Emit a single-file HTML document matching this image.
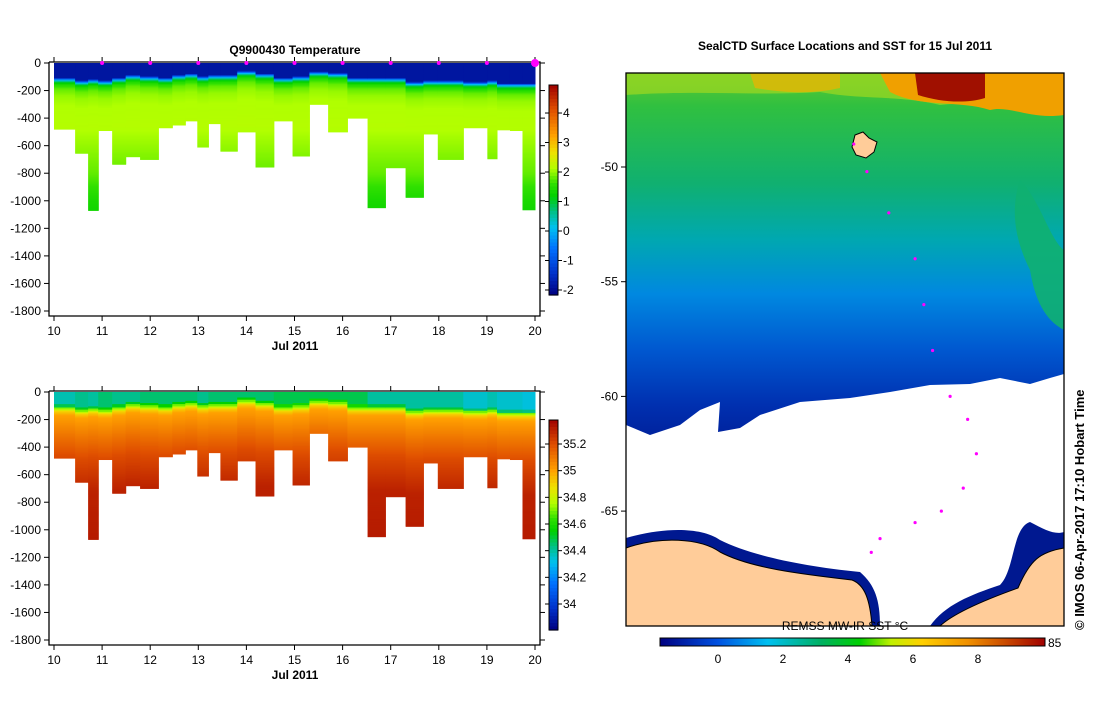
<!DOCTYPE html>
<html><head><meta charset="utf-8">
<style>
body{margin:0;background:#fff;width:1099px;height:700px;overflow:hidden;font-family:"Liberation Sans",sans-serif;}
svg text{font-family:"Liberation Sans",sans-serif;}
</style></head>
<body>
<svg id="root" width="1099" height="700" xmlns="http://www.w3.org/2000/svg">
<g id="tchart"></g>
<g id="schart"></g>
<g id="map"></g>
</svg>
<script>
const NS="http://www.w3.org/2000/svg";
// ---- data ----
const colEdges=[10,10.44,10.71,10.92,11.21,11.49,11.79,12.17,12.46,12.73,12.98,13.21,13.46,13.81,14.19,14.57,14.96,15.31,15.70,16.10,16.52,16.89,17.31,17.68,17.98,18.51,19.01,19.21,19.48,19.74,20.0];
const colMaxDepth=[480,655,1070,490,735,680,700,470,450,420,610,440,640,500,755,420,675,300,500,400,1050,760,975,515,700,470,695,485,490,1065];
const colMld=[110,130,120,130,110,90,100,110,90,80,100,90,90,60,80,110,100,65,75,110,110,110,140,130,130,140,130,150,150,150];
const colSurfSal=[34.38,34.42,34.4,34.45,34.42,34.42,34.45,34.45,34.45,34.45,34.42,34.45,34.45,34.45,34.45,34.48,34.48,34.48,34.48,34.48,34.4,34.4,34.4,34.4,34.4,34.35,34.38,34.35,34.35,34.33];
const tempDz=[0,15,30,50,80,130,200,400];
const tempVals=[-1.5,0,1.0,1.5,1.8,2.0,2.1,2.15];
const deepZ=[0,400,600,800,1000,1100];
const deepT=[2.2,2.2,2.0,1.8,1.4,1.3];
const salDz=[0,10,30,60,200,350,600,1000];
const salVals=[34.7,34.7,34.9,35.0,35.1,35.2,35.3,35.32];
const profileDays=[11,12,13,14,15,16,17,18,19,20];
const dayTicks=[10,11,12,13,14,15,16,17,18,19,20];
const depthTicks=[0,-200,-400,-600,-800,-1000,-1200,-1400,-1600,-1800];
const tempCbTicks=[4,3,2,1,0,-1,-2];
const salCbTicks=[35.2,35,34.8,34.6,34.4,34.2,34];
const latTicks=[-50,-55,-60,-65];
const sstTicks=[0,2,4,6,8];
const trackLon=[0.52,0.55,0.60,0.66,0.68,0.70,0.74,0.78,0.80,0.77,0.72,0.66,0.58,0.56];
const trackLat=[-49.0,-50.2,-52,-54,-56,-58,-60,-61,-62.5,-64,-65,-65.5,-66.2,-66.8];

const cmS=[[0,[0,0,128]],[0.1,[0,48,200]],[0.22,[0,112,255]],[0.32,[0,192,240]],[0.4,[0,192,128]],[0.47,[0,208,0]],[0.53,[48,224,0]],[0.6,[176,255,0]],[0.68,[240,224,0]],[0.76,[255,160,0]],[0.88,[224,80,0]],[1,[160,0,0]]];
function cmap(t){t=Math.max(0,Math.min(1,t));for(let i=1;i<cmS.length;i++){if(t<=cmS[i][0]){const a=cmS[i-1],b=cmS[i],f=(t-a[0])/(b[0]-a[0]);return `rgb(${a[1].map((v,k)=>Math.round(v+(b[1][k]-v)*f)).join(',')})`;}}return 'rgb(160,0,0)';}
function interp(xs,ys,x){if(x<=xs[0])return ys[0];for(let i=1;i<xs.length;i++){if(x<=xs[i])return ys[i-1]+(ys[i]-ys[i-1])*(x-xs[i-1])/(xs[i]-xs[i-1]);}return ys[ys.length-1];}
function el(tag,attrs,parent,txt){const e=document.createElementNS(NS,tag);for(const k in attrs)e.setAttribute(k,attrs[k]);if(txt!==undefined)e.textContent=txt;parent.appendChild(e);return e;}

function section(g,top,title,valFn,vmin,vmax,cbTicks,cbTop,cbBot){
  const x0=54,x1=535,yTop=top,yBot=top+248;
  const xs=d=>x0+(d-10)*(x1-x0)/10;
  const ys=z=>yTop+z*(248/1800);
  if(title){const t=el('text',{x:295,y:top-9,'text-anchor':'middle','font-size':12,'font-weight':'bold'},g,title);
  
  }
  for(let c=0;c<colMaxDepth.length;c++){
    const xa=xs(colEdges[c]),xb=xs(colEdges[c+1]);
    const step=8;
    for(let z=0;z<colMaxDepth[c];z+=step){
      const zz=Math.min(step,colMaxDepth[c]-z);
      const v=valFn(c,z+zz/2);
      const r=el('rect',{x:xa,y:ys(z),width:xb-xa+0.5,height:ys(z+zz)-ys(z)+0.5,fill:cmap((v-vmin)/(vmax-vmin))},g);
      
      
    }
  }
  const ax=el('path',{d:`M${x0-5},${yTop-1}V${yBot+5}H${x1+5}V${yTop-1}H${x0-5}`,fill:'none',stroke:'#000','stroke-width':1.3},g);
  
  
  depthTicks.forEach(d=>{const y=ys(-d);
    el('line',{x1:x0-10,x2:x0-5,y1:y,y2:y,stroke:'#000'},g);
    el('line',{x1:x1+5,x2:x1+10,y1:y,y2:y,stroke:'#000'},g);
    const t=el('text',{x:x0-13,y:y+4,'text-anchor':'end','font-size':12},g,String(d));
    
    });
  dayTicks.forEach(d=>{const x=xs(d);
    el('line',{x1:x,x2:x,y1:yBot+5,y2:yBot+10,stroke:'#000'},g);
    el('line',{x1:x,x2:x,y1:yTop-1,y2:yTop-6,stroke:'#000'},g);
    const t=el('text',{x:x,y:yBot+24,'text-anchor':'middle','font-size':12},g,String(d));
    
    });
  const xl=el('text',{x:295,y:yBot+39,'text-anchor':'middle','font-size':12,'font-weight':'bold'},g,'Jul 2011');
  
  
  if(title){profileDays.forEach(d=>{const m=el('circle',{cx:xs(d),cy:yTop,r:d==20?4:2,fill:'#ff00ff'},g);
    
    });}
  const cx=549,cw=9;const n=60;
  for(let i=0;i<n;i++){const y=cbTop+(cbBot-cbTop)*i/n;
    el('rect',{x:cx,y:y,width:cw,height:(cbBot-cbTop)/n+0.6,fill:cmap(1-(i+0.5)/n)},g);}
  const cb=el('rect',{x:cx,y:cbTop,width:cw,height:cbBot-cbTop,fill:'none',stroke:'#000'},g);
  
  
  cbTicks.forEach(v=>{const y=cbBot-(v-vmin)/(vmax-vmin)*(cbBot-cbTop);
    el('line',{x1:cx+cw,x2:cx+cw+4,y1:y,y2:y,stroke:'#000'},g);
    el('line',{x1:cx-4,x2:cx,y1:y,y2:y,stroke:'#000'},g);
    const t=el('text',{x:cx+cw+5,y:y+4,'font-size':12},g,String(v));
    
    });
}
function tempAt(c,z){const dz=z-colMld[c];let up;if(dz<0)up=-1.85;else up=interp(tempDz,tempVals,dz);return Math.min(up,interp(deepZ,deepT,z));}
function salAt(c,z){const dz=z-colMld[c];if(dz<0)return colSurfSal[c]+(dz>-20?0.1:0);return interp(salDz,salVals,dz);}
section(document.getElementById('tchart'),63,'Q9900430  Temperature',tempAt,-2.17,4.95,tempCbTicks,85,295);
section(document.getElementById('schart'),392,null,salAt,33.805,35.38,salCbTicks,420,630);

const mg=document.getElementById('map');
const mx0=626,mx1=1064,my0=73,my1=626;
const latY=l=>167+(-50-l)*(114.7/5);
const lonX=f=>mx0+f*(mx1-mx0);
mg.innerHTML=`
<defs><linearGradient id="sstg" x1="0" y1="0" x2="0" y2="1">
<stop offset="0" stop-color="#60c830"/><stop offset="0.06" stop-color="#30c040"/><stop offset="0.2" stop-color="#10b070"/>
<stop offset="0.3" stop-color="#00a8b0"/><stop offset="0.4" stop-color="#0088e0"/><stop offset="0.5" stop-color="#0058d0"/>
<stop offset="0.6" stop-color="#0030b0"/><stop offset="0.7" stop-color="#001890"/><stop offset="1" stop-color="#000a80"/></linearGradient>
<linearGradient id="sstbar" x1="0" y1="0" x2="1" y2="0">
<stop offset="0" stop-color="#000080"/><stop offset="0.15" stop-color="#0050e0"/><stop offset="0.28" stop-color="#00c0f0"/><stop offset="0.42" stop-color="#00b060"/>
<stop offset="0.52" stop-color="#00d000"/><stop offset="0.6" stop-color="#c0f000"/><stop offset="0.68" stop-color="#ffd000"/><stop offset="0.8" stop-color="#f09000"/><stop offset="1" stop-color="#a00000"/></linearGradient></defs>
<rect x="${mx0}" y="${my0}" width="${mx1-mx0}" height="${my1-my0}" fill="url(#sstg)"/>
<path d="M626,73H1064V95C1020,110 980,100 940,105 900,95 860,100 820,92 760,96 700,90 626,95Z" fill="#a0d820" opacity="0.7"/>
<path d="M880,73H1064V115C1030,120 1010,105 990,110 960,100 920,108 890,92Z" fill="#f0a000"/>
<path d="M915,73H985V98C965,104 940,102 918,95Z" fill="#a01000"/>
<path d="M750,73H840V88C810,95 780,92 755,88Z" fill="#f0b000" opacity="0.7"/>
<path d="M1020,180C1040,200 1050,240 1064,250V330C1045,320 1035,300 1030,270 1015,240 1010,210 1020,180Z" fill="#10b070" opacity="0.9"/>
<path d="M626,425L650,435 680,425 700,410 720,402 718,432 740,428 760,415 800,402 850,398 890,392 930,385 970,384 1000,378 1030,384 1050,378 1064,374V626H626Z" fill="#fff"/>
<path d="M626,538C660,528 700,526 720,540 750,555 800,566 860,572 875,585 880,600 880,626H930C945,605 970,595 1000,585 1015,570 1012,528 1030,522 1045,530 1055,535 1064,532V548C1040,552 1030,560 1018,588 990,598 955,612 940,626H872C870,600 865,585 852,580 800,574 750,568 720,552 700,538 660,536 626,548Z" fill="#001890"/>
<path d="M626,548C660,536 700,538 720,552 750,568 800,574 852,580 865,585 870,600 872,626H626Z M940,626C955,612 990,598 1018,588 1030,560 1040,552 1064,548V626Z" fill="#ffcc99" stroke="#000" stroke-width="1"/>
<path d="M855,135l8,-3 6,6 8,4 -3,10 -8,6 -10,-3 -4,-8z" fill="#ffcc99" stroke="#000"/>
<rect x="${mx0}" y="${my0}" width="${mx1-mx0}" height="${my1-my0}" fill="none" stroke="#000" stroke-width="1.3"/>
<text x="845" y="50" text-anchor="middle" font-size="12" font-weight="bold">SealCTD Surface Locations and SST for 15 Jul 2011</text>
<rect x="660" y="638" width="385" height="8" fill="url(#sstbar)" stroke="#000"/>
<text x="1048" y="647" font-size="12">85</text>
<text x="845" y="630" text-anchor="middle" font-size="12">REMSS MW-IR SST °C</text>
<text transform="translate(1084,630) rotate(-90)" font-size="13" font-weight="bold">© IMOS 06-Apr-2017 17:10 Hobart Time</text>`;
latTicks.forEach(l=>{const y=latY(l);
  el('line',{x1:mx0-5,x2:mx0,y1:y,y2:y,stroke:'#000'},mg);
  const t=el('text',{x:mx0-8,y:y+4,'text-anchor':'end','font-size':12},mg,String(l));
  
  });
sstTicks.forEach(v=>{const x=718+v*32.5;
  const t=el('text',{x:x,y:663,'text-anchor':'middle','font-size':12},mg,String(v));
  
  });
for(let i=0;i<trackLon.length;i++){const d=el('circle',{cx:lonX(trackLon[i]),cy:latY(trackLat[i]),r:1.6,fill:'#ff00ff'},mg);
  
  }
</script>
</body></html>
